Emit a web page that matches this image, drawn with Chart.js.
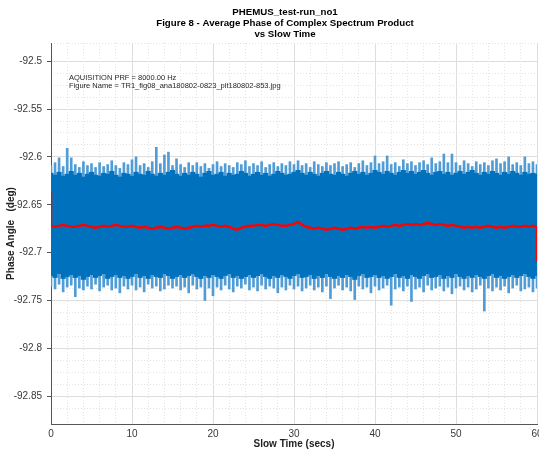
<!DOCTYPE html>
<html lang="en">
<head>
    <meta charset="UTF-8">
    <title>PHEMUS_test-run_no1 - Figure 8</title>
    <script src="https://cdn.jsdelivr.net/npm/chart.js"></script>
    <style>
        html, body {
            margin: 0;
            padding: 0;
            background-color: #ffffff;
        }
        .chart-box {
            width: 539px;
            height: 453px;
        }
    </style>
</head>
<body>
    <div class="chart-box">
        <canvas id="phaseChart"></canvas>
    </div>

    <script>
        // sample spacing of the binned signal (secs)
        const dt = 0.5;

        // upper edge of the dense part of the signal (deg)
        const hiCore = [
            -92.617,-92.619,-92.616,-92.620,-92.618,-92.615,-92.619,-92.617,-92.621,-92.618,
            -92.616,-92.619,-92.620,-92.617,-92.618,-92.615,-92.619,-92.621,-92.617,-92.618,
            -92.620,-92.616,-92.618,-92.619,-92.615,-92.618,-92.620,-92.617,-92.619,-92.616,
            -92.614,-92.618,-92.620,-92.617,-92.619,-92.616,-92.618,-92.621,-92.617,-92.615,
            -92.619,-92.618,-92.616,-92.620,-92.617,-92.619,-92.618,-92.615,-92.617,-92.620,
            -92.618,-92.616,-92.619,-92.617,-92.620,-92.618,-92.615,-92.617,-92.619,-92.618,
            -92.616,-92.614,-92.617,-92.619,-92.616,-92.618,-92.620,-92.617,-92.615,-92.618,
            -92.619,-92.616,-92.618,-92.620,-92.617,-92.615,-92.618,-92.616,-92.619,-92.617,
            -92.614,-92.616,-92.618,-92.615,-92.617,-92.619,-92.616,-92.614,-92.617,-92.615,
            -92.618,-92.616,-92.614,-92.617,-92.619,-92.616,-92.615,-92.618,-92.616,-92.619,
            -92.617,-92.615,-92.618,-92.616,-92.614,-92.617,-92.619,-92.616,-92.618,-92.615,
            -92.617,-92.619,-92.616,-92.618,-92.615,-92.617,-92.619,-92.616,-92.618,-92.617,
            -92.618
        ];

        // lower edge of the dense part of the signal (deg)
        const loCore = [
            -92.724,-92.726,-92.722,-92.727,-92.725,-92.723,-92.726,-92.724,-92.728,-92.725,
            -92.723,-92.726,-92.724,-92.722,-92.727,-92.725,-92.723,-92.726,-92.724,-92.727,
            -92.725,-92.722,-92.726,-92.724,-92.727,-92.723,-92.725,-92.726,-92.722,-92.724,
            -92.727,-92.725,-92.723,-92.726,-92.724,-92.722,-92.725,-92.727,-92.724,-92.726,
            -92.723,-92.725,-92.727,-92.724,-92.722,-92.726,-92.724,-92.727,-92.725,-92.723,
            -92.726,-92.724,-92.722,-92.725,-92.727,-92.724,-92.726,-92.723,-92.725,-92.727,
            -92.724,-92.722,-92.726,-92.725,-92.723,-92.727,-92.724,-92.726,-92.722,-92.725,
            -92.727,-92.724,-92.726,-92.723,-92.725,-92.728,-92.724,-92.722,-92.726,-92.725,
            -92.723,-92.726,-92.724,-92.727,-92.725,-92.722,-92.726,-92.724,-92.727,-92.723,
            -92.725,-92.727,-92.724,-92.722,-92.726,-92.725,-92.723,-92.727,-92.724,-92.726,
            -92.722,-92.725,-92.727,-92.724,-92.726,-92.723,-92.725,-92.727,-92.724,-92.722,
            -92.726,-92.724,-92.727,-92.725,-92.723,-92.726,-92.724,-92.722,-92.725,-92.727,
            -92.724
        ];

        // highest spike in each bin (deg)
        const hiPeak = [
            -92.609,-92.606,-92.601,-92.610,-92.591,-92.601,-92.608,-92.611,-92.605,-92.609,
            -92.607,-92.611,-92.606,-92.610,-92.608,-92.604,-92.609,-92.612,-92.606,-92.608,
            -92.603,-92.600,-92.609,-92.607,-92.611,-92.605,-92.590,-92.607,-92.598,-92.595,
            -92.609,-92.602,-92.608,-92.611,-92.606,-92.609,-92.606,-92.610,-92.607,-92.612,
            -92.608,-92.605,-92.610,-92.607,-92.609,-92.611,-92.606,-92.608,-92.604,-92.610,
            -92.607,-92.609,-92.605,-92.611,-92.608,-92.606,-92.610,-92.607,-92.609,-92.605,
            -92.608,-92.604,-92.609,-92.607,-92.611,-92.605,-92.608,-92.610,-92.606,-92.609,
            -92.607,-92.605,-92.610,-92.608,-92.606,-92.611,-92.607,-92.604,-92.609,-92.606,
            -92.599,-92.607,-92.605,-92.599,-92.608,-92.606,-92.610,-92.603,-92.607,-92.605,
            -92.609,-92.606,-92.604,-92.608,-92.601,-92.607,-92.605,-92.597,-92.606,-92.597,
            -92.606,-92.609,-92.604,-92.607,-92.610,-92.605,-92.608,-92.606,-92.609,-92.604,
            -92.602,-92.607,-92.605,-92.600,-92.608,-92.606,-92.609,-92.600,-92.607,-92.605,
            -92.608
        ];

        // lowest spike in each bin (deg)
        const loPeak = [
            -92.735,-92.738,-92.733,-92.741,-92.736,-92.734,-92.746,-92.737,-92.739,-92.735,
            -92.738,-92.733,-92.740,-92.736,-92.734,-92.739,-92.737,-92.742,-92.735,-92.738,
            -92.734,-92.739,-92.736,-92.741,-92.733,-92.737,-92.735,-92.740,-92.738,-92.734,
            -92.737,-92.735,-92.739,-92.736,-92.742,-92.734,-92.738,-92.736,-92.750,-92.737,
            -92.745,-92.736,-92.739,-92.734,-92.738,-92.741,-92.735,-92.737,-92.733,-92.739,
            -92.736,-92.740,-92.734,-92.738,-92.735,-92.737,-92.742,-92.736,-92.739,-92.734,
            -92.738,-92.735,-92.740,-92.737,-92.734,-92.739,-92.736,-92.741,-92.735,-92.748,
            -92.737,-92.734,-92.739,-92.736,-92.740,-92.749,-92.735,-92.738,-92.736,-92.742,
            -92.735,-92.739,-92.737,-92.734,-92.755,-92.738,-92.736,-92.740,-92.735,-92.751,
            -92.738,-92.736,-92.741,-92.734,-92.739,-92.737,-92.735,-92.740,-92.736,-92.743,
            -92.737,-92.735,-92.739,-92.736,-92.741,-92.738,-92.734,-92.761,-92.737,-92.740,
            -92.736,-92.739,-92.735,-92.742,-92.737,-92.734,-92.740,-92.738,-92.736,-92.741,
            -92.737
        ];

        // averaged phase (red trace), with the edge values at t=0 and t=60
        const meanStart = -92.637;
        const meanEnd = -92.709;
        const meanPhase = [
            -92.672,-92.673,-92.672,-92.671,-92.672,-92.673,-92.673,-92.672,-92.671,-92.672,
            -92.673,-92.674,-92.673,-92.672,-92.673,-92.672,-92.671,-92.672,-92.673,-92.673,
            -92.672,-92.673,-92.674,-92.673,-92.674,-92.675,-92.674,-92.673,-92.674,-92.675,
            -92.674,-92.673,-92.674,-92.675,-92.674,-92.673,-92.672,-92.673,-92.672,-92.672,
            -92.671,-92.672,-92.673,-92.672,-92.673,-92.675,-92.676,-92.674,-92.673,-92.672,
            -92.672,-92.671,-92.671,-92.672,-92.671,-92.670,-92.671,-92.672,-92.672,-92.671,
            -92.670,-92.668,-92.671,-92.673,-92.674,-92.675,-92.674,-92.675,-92.676,-92.675,
            -92.674,-92.675,-92.676,-92.675,-92.674,-92.675,-92.674,-92.673,-92.674,-92.673,
            -92.674,-92.673,-92.672,-92.673,-92.672,-92.671,-92.672,-92.671,-92.670,-92.671,
            -92.670,-92.671,-92.670,-92.669,-92.670,-92.671,-92.670,-92.671,-92.672,-92.671,
            -92.672,-92.673,-92.674,-92.673,-92.674,-92.673,-92.674,-92.673,-92.672,-92.673,
            -92.674,-92.673,-92.674,-92.673,-92.672,-92.673,-92.673,-92.672,-92.673,-92.672,
            -92.673
        ];

        // axes
        const xMin = 0, xMax = 60, xMajor = 10, xMinor = 2;
        const yMin = -92.879, yMax = -92.481, yMajor = 0.05, yMinor = 0.0125;

        const titleLines = [
            'PHEMUS_test-run_no1',
            'Figure 8 - Average Phase of Complex Spectrum Product',
            'vs Slow Time'
        ];
        const noteLines = [
            'AQUISITION PRF = 8000.00 Hz',
            'Figure Name = TR1_fig08_ana180802-0823_plt180802-853.jpg'
        ];

        const times = hiCore.map((_, i) => i * dt);
        const coreData = times.map((t, i) => ({ x: t, y: [loCore[i], hiCore[i]] }));
        const peakData = times.map((t, i) => ({ x: t, y: [loPeak[i], hiPeak[i]] }));
        const meanData = [{ x: xMin, y: meanStart }]
            .concat(times.map((t, i) => ({ x: t, y: meanPhase[i] })))
            .concat([{ x: xMax, y: meanEnd }]);

        const isMajor = (v, step) => Math.abs(v / step - Math.round(v / step)) < 1e-6;

        // the "60" label runs off the right edge as in the original figure
        const noSidePadding = scale => { scale.paddingLeft = 0; scale.paddingRight = 0; };

        const font = '"Liberation Sans", Arial, Helvetica, sans-serif';

        // title above the axes and the text box in the upper left of the axes
        const textPlugin = {
            id: 'figureText',
            afterDraw(chart) {
                const { ctx, chartArea } = chart;
                ctx.save();
                ctx.fillStyle = '#000000';
                ctx.textAlign = 'center';
                ctx.textBaseline = 'middle';
                ctx.font = 'bold 9.7px ' + font;
                titleLines.forEach((line, i) => {
                    ctx.fillText(line, chartArea.left + 234, 12.5 + i * 11);
                });
                ctx.font = '7.5px ' + font;
                ctx.fillStyle = '#262626';
                ctx.textAlign = 'left';
                noteLines.forEach((line, i) => {
                    ctx.fillText(line, chartArea.left + 18, chartArea.top + 35 + i * 8);
                });
                ctx.restore();
            }
        };

        new Chart(document.getElementById('phaseChart'), {
            type: 'bar',
            data: {
                datasets: [
                    {
                        type: 'line',
                        data: meanData,
                        borderColor: '#ff0000',
                        borderWidth: 2.5,
                        pointRadius: 0,
                        tension: 0,
                        order: 0
                    },
                    {
                        data: coreData,
                        backgroundColor: '#0072bd',
                        barThickness: 4.5,
                        grouped: false,
                        order: 1
                    },
                    {
                        data: peakData,
                        backgroundColor: '#509cd6',
                        barThickness: 2,
                        grouped: false,
                        order: 2
                    }
                ]
            },
            options: {
                responsive: true,
                maintainAspectRatio: false,
                animation: false,
                layout: { padding: { left: 0, right: 2, top: 43, bottom: 0 } },
                plugins: {
                    legend: { display: false },
                    tooltip: { enabled: false },
                    title: { display: false }
                },
                scales: {
                    x: {
                        type: 'linear',
                        min: xMin,
                        max: xMax,
                        offset: false,
                        ticks: {
                            stepSize: xMajor,
                            color: '#383838',
                            font: { family: font, size: 10 },
                            padding: 4,
                            maxRotation: 0
                        },
                        grid: { color: '#dedede', drawTicks: false, offset: false },
                        border: { color: '#555555' },
                        title: {
                            display: true,
                            text: 'Slow Time (secs)',
                            color: '#222222',
                            font: { family: font, size: 10, weight: 'bold' },
                            padding: { top: 0, bottom: 3 }
                        },
                        afterFit(scale) { scale.height = 29; noSidePadding(scale); }
                    },
                    xMinorGrid: {
                        type: 'linear',
                        position: 'bottom',
                        min: xMin,
                        max: xMax,
                        offset: false,
                        ticks: { display: false, stepSize: xMinor },
                        grid: {
                            drawTicks: false,
                            offset: false,
                            color: ctx => isMajor(ctx.tick.value, xMajor) ? 'rgba(0,0,0,0)' : '#e3e3e3'
                        },
                        border: { display: false, dash: [1, 2] },
                        afterFit(scale) { scale.height = 0; noSidePadding(scale); }
                    },
                    y: {
                        type: 'linear',
                        min: yMin,
                        max: yMax,
                        ticks: {
                            stepSize: yMajor,
                            autoSkip: false,
                            color: '#383838',
                            font: { family: font, size: 10 },
                            padding: 5,
                            callback: v => isMajor(v, yMajor) ? String(+v.toFixed(2)) : ''
                        },
                        grid: {
                            color: ctx => isMajor(ctx.tick.value, yMajor) ? '#dedede' : 'rgba(0,0,0,0)',
                            tickLength: 4,
                            tickColor: ctx => isMajor(ctx.tick.value, yMajor) ? '#555555' : 'rgba(0,0,0,0)'
                        },
                        border: { color: '#555555' },
                        title: {
                            display: true,
                            text: 'Phase Angle   (deg)',
                            color: '#222222',
                            font: { family: font, size: 10, weight: 'bold' },
                            padding: { top: 5, bottom: 0 }
                        },
                        afterFit(scale) { scale.width = 51; }
                    },
                    yMinorGrid: {
                        type: 'linear',
                        position: 'left',
                        min: yMin,
                        max: yMax,
                        ticks: { display: false, stepSize: yMinor },
                        grid: {
                            drawTicks: false,
                            color: ctx => isMajor(ctx.tick.value, yMajor) ? 'rgba(0,0,0,0)' : '#e3e3e3'
                        },
                        border: { display: false, dash: [1, 2] },
                        afterFit(scale) { scale.width = 0; }
                    }
                }
            },
            plugins: [textPlugin]
        });
    </script>
</body>
</html>
